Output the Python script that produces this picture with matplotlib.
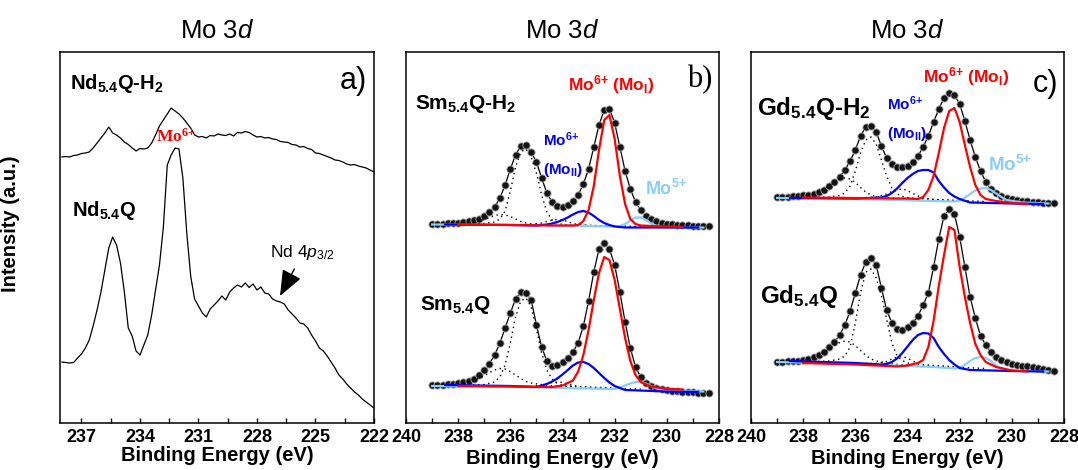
import numpy as np
import matplotlib
matplotlib.use('Agg')
import matplotlib.pyplot as plt
from matplotlib.ticker import MultipleLocator

plt.rcParams['font.family'] = ['Liberation Sans', 'DejaVu Sans']
plt.rcParams['mathtext.fontset'] = 'custom'
plt.rcParams['mathtext.rm'] = 'Liberation Sans'
plt.rcParams['mathtext.it'] = 'Liberation Sans:italic'
plt.rcParams['mathtext.bf'] = 'Liberation Sans:bold'
plt.rcParams['mathtext.default'] = 'regular'

RED = '#ff0000'
BLUE = '#0000ff'
LBLUE = '#87cefa'

# ---------------- panel a (Nd), raw spectra
a_e = np.round(np.arange(238.0, 221.9, -0.2), 1)
nd_h2 = [266, 266.5, 266, 267.5, 268, 269.5, 270, 271, 275, 280, 285, 290, 296, 290, 288,
         285, 281, 278.5, 275, 272, 274.5, 274, 275, 280, 288, 297, 303, 309, 315, 312,
         309, 305, 300, 295, 288, 286, 286.5, 285, 287.5, 287, 289, 288, 287.5, 289, 287,
         290.5, 290, 291.5, 290.5, 288, 286, 286.5, 285, 285.5, 284, 283.5, 281.5, 281, 280.5,
         278.5, 278, 276, 276.5, 274.5, 273.5, 270, 269.5, 268, 266.5, 265, 263, 262.5, 261,
         259, 258, 258.5, 257, 256, 255, 253, 251]
nd = [61, 60.5, 60, 60.5, 65, 69, 75, 83, 97, 113, 131, 153, 175, 186, 178, 160, 131, 95,
      87, 72, 68, 78, 88, 108, 133, 158, 196, 258, 268, 275, 274, 245, 190, 147, 124, 117,
      110, 106, 114, 118, 122, 127, 123, 131, 135, 138, 136, 140, 135.5, 139, 133, 136, 130,
      129, 124, 122, 121, 119, 113, 109, 105, 100, 99, 95, 88, 82, 75, 72, 67, 61, 55, 48,
      44, 39, 35, 31, 28, 24, 21, 18, 15]

# ---------------- panels b, c: measured points
bc_e = np.round(np.arange(239.0, 228.3, -0.2), 1)
sm_h2 = [199, 199, 199.5, 200, 200, 200.5, 201, 202, 203, 204.5, 207, 211, 216, 225, 238,
         254, 268, 277, 278, 271, 261, 245, 230, 221, 217, 216, 218, 222, 228, 239, 254, 276,
         298, 313, 314, 300, 276, 252, 234, 221, 213, 207, 204, 202, 200.5, 199.5, 199, 198.5,
         198, 198, 197.5, 197.5, 197, 197]
sm = [38, 38, 38.5, 39, 39.5, 40, 41, 42.5, 44.5, 48, 53, 59.5, 68, 80, 95, 110, 124, 131,
      130, 123, 98, 76, 62, 57, 58, 61, 65, 71, 80, 97, 122, 151, 174, 180, 174, 158, 131,
      101, 75, 56, 46, 40, 37, 35, 34, 33, 32.5, 32, 31.5, 31, 31, 30.5, 30.5, 30]
gd_h2 = [226, 226, 226.5, 227, 227.5, 228, 228.5, 229.5, 231, 233.5, 237, 241, 246, 253,
         262, 273, 287, 296, 297, 291, 277, 265, 259, 256, 256, 257, 261, 267, 276, 287, 301,
         314, 325, 330, 328, 319, 302, 283, 266, 252, 241, 234, 230, 227, 225, 224, 223,
         222.5, 222, 221.5, 221, 220.5, 220, 220]
gd = [61, 61.5, 62, 62, 62.5, 63, 64, 66, 68, 71, 76, 81, 88, 98, 112, 130, 148, 161, 165,
      158, 135, 113, 100, 94, 93, 96, 100, 107, 118, 130, 156, 184, 207, 214, 209, 186, 156,
      126, 105, 87, 78, 71, 66, 63, 61, 59.5, 58.5, 57.5, 57, 56, 55, 54, 53, 52]

# ---------------- fitted components (3d5/2 solid, 3d3/2 dotted)
red_e = [238.0, 236.0, 234.4, 234.0, 233.6, 233.4, 233.2, 233.0, 232.8, 232.6, 232.4, 232.2,
         232.0, 231.8, 231.6, 231.4, 231.2, 231.0, 230.6, 230.0, 229.4]
sm_h2_red = [198.5, 198, 197.5, 197.5, 197.5, 198, 202, 213, 237, 273, 303, 308, 284, 247,
             219, 204, 199, 197.5, 197, 196.5, 196]
sm_red = [37, 36.5, 36, 37.5, 42.5, 51.5, 68, 93, 123, 150, 166, 163, 143, 114, 85, 62, 48,
          41, 36.5, 34, 33.5]
gd_h2_red = [225.5, 225, 224.5, 224.5, 224, 226, 233, 247, 270, 295, 312, 315, 301, 278, 256,
             238, 228, 224, 222, 220, 219]
gd_red = [60, 58.5, 56.5, 57.5, 60, 63, 76, 102, 137, 168, 196, 193, 156, 126, 100, 79, 68,
          61, 56, 52.5, 51.5]

blue_e = [238.5, 236.0, 235.0, 234.8, 234.6, 234.4, 234.2, 234.0, 233.8, 233.6, 233.4, 233.2,
          233.0, 232.8, 232.6, 232.4, 232.2, 232.0, 231.6, 230.0, 228.8]
sm_h2_blue = [198.5, 198, 197.5, 198, 198.5, 199.5, 201, 203, 205.5, 208.5, 211, 212, 210.5,
              207, 203, 200, 198, 196.5, 195.5, 195.5, 195.5]
sm_blue = [38, 37, 36, 37.5, 39, 41.5, 44.5, 48.5, 53, 57.5, 60.5, 61, 59, 55, 50, 45, 40.5,
           37, 33, 31.5, 31]
gd_h2_blue = [225, 224.5, 225.5, 227, 230, 234.5, 240, 245, 249, 252, 253, 253, 250.5, 242,
              235.5, 230, 226.5, 224, 220.5, 219.5, 219]
gd_blue = [62, 60, 58.5, 59, 61, 64.5, 70, 76.5, 83, 88, 90, 89.5, 85, 76, 69, 63, 58.5, 55,
           53, 52, 51.5]

lblue_e = [239.0, 236.0, 233.0, 232.2, 232.0, 231.8, 231.6, 231.4, 231.2, 231.0, 230.8,
           230.6, 230.4, 230.2, 229.6, 228.6]
sm_h2_lb = [198.5, 198, 197, 196.5, 196.5, 197, 199, 202.5, 205.5, 205.5, 203, 199.5, 197,
            196, 195.5, 195.5]
sm_lb = [37, 36, 34.5, 34, 34, 35.5, 37.5, 39.5, 41, 41, 39.5, 37, 34.5, 33, 32, 31.5]
gd_h2_lb = [225, 224, 222, 221.5, 222.5, 225.5, 229, 232.5, 234.5, 235, 233, 229.5, 226,
            223, 220.5, 219.5]
gd_lb = [61, 59, 56, 54.5, 55.5, 58, 62, 65, 66, 65, 62, 57.5, 54.5, 53, 52, 51.5]

d1_e = [238.0, 237.0, 236.6, 236.4, 236.2, 236.0, 235.8, 235.6, 235.4, 235.2, 235.0, 234.8,
        234.6, 234.4, 234.2, 234.0, 233.6, 232.0]
sm_h2_d1 = [198.5, 199.5, 201, 204, 212, 232, 256, 271, 274, 266, 250, 228, 211, 203, 200,
            198.5, 198, 197]
sm_d1 = [37, 38.5, 41, 46, 58, 80, 106, 122, 125, 116, 94, 70, 53, 44, 39.5, 37.5, 36.5, 35]
gd_h2_d1 = [225.5, 226, 227.5, 230, 237, 252, 270, 283, 286, 279, 263, 247, 235, 229, 226.5,
            225.5, 224.5, 222]
gd_d1 = [61, 62, 64, 67, 76, 100, 130, 151, 154, 145, 127, 104, 80, 67, 62.5, 60, 58.5, 56]

d2_e = [238.4, 237.8, 237.4, 237.0, 236.8, 236.6, 236.4, 236.2, 236.0, 235.8, 235.6, 235.4,
        235.2, 234.6, 233.6]
sm_h2_d2 = [198.5, 199.5, 201, 203.5, 205.5, 207.5, 208.5, 208, 206.5, 204, 201.5, 200, 199,
            198, 197.5]
sm_d2 = [38, 40, 43, 47, 50.5, 53, 54.5, 54, 51.5, 48, 44.5, 41.5, 40, 37.5, 36]
gd_h2_d2 = [225.5, 228, 232, 237, 240.5, 243.5, 245, 244, 240.5, 235.5, 231, 228, 226.5, 225,
            223.5]
gd_d2 = [62, 64.5, 68, 73.5, 77.5, 80.5, 82, 81, 77.5, 72.5, 67.5, 64, 62, 59, 57]

d3_e = [235.6, 235.2, 234.8, 234.6, 234.4, 234.2, 234.0, 233.8, 233.6, 233.4, 233.0, 231.0]
sm_h2_d3 = [198.5, 198.5, 200, 201.5, 203, 203.5, 203, 201.5, 199.5, 198.5, 197.5, 196.5]
sm_d3 = [36.5, 36.5, 38, 39.5, 40.5, 41, 40.5, 39, 37.5, 36.5, 35.5, 34]
gd_h2_d3 = [225.5, 226, 229, 231.5, 233.5, 234, 232.5, 229.5, 227, 225, 223.5, 221.5]
gd_d3 = [59.5, 59.5, 61.5, 64, 66, 66.5, 65, 62, 59.5, 58, 57, 54.5]


def style_axis(ax, xmin, xmax, major, minor, labelpad):
    ax.set_xlim(xmin, xmax)
    ax.set_ylim(0, 371)
    ax.xaxis.set_major_locator(MultipleLocator(major))
    ax.xaxis.set_minor_locator(MultipleLocator(minor))
    ax.tick_params(axis='x', which='both', direction='in', length=3.5, width=1,
                   labelsize=13, pad=4)
    ax.set_yticks([])
    for lab in ax.get_xticklabels():
        lab.set_fontweight('bold')
    for sp in ax.spines.values():
        sp.set_linewidth(1.1)
    ax.set_xlabel('Binding Energy (eV)', fontsize=14.5, fontweight='bold',
                  labelpad=labelpad)
    ax.set_title('Mo 3$\\mathit{d}$', fontsize=18.5, pad=10)


def draw_fit(ax, data, red, blue, lb, d1, d2, d3):
    ax.plot(bc_e, data, color='black', lw=0.9, zorder=2)
    ax.plot(bc_e, data, 'o', ms=5.2, mfc='#141414', mec='#a8a8a8', mew=0.6, zorder=3)
    for e, v in ((d1_e, d1), (d2_e, d2), (d3_e, d3)):
        ax.plot(e, v, color='black', lw=1.0, ls=(0, (1, 2.6)), zorder=4)
    ax.plot(lblue_e, lb, color=LBLUE, lw=1.6, zorder=5)
    ax.plot(blue_e, blue, color=BLUE, lw=1.6, zorder=5)
    ax.plot(red_e, red, color=RED, lw=1.6, zorder=6)


fig = plt.figure(figsize=(10.78, 4.70), dpi=100)
axa = fig.add_axes([60 / 1078, 47 / 470, 314 / 1078, 371 / 470])
axb = fig.add_axes([406 / 1078, 47 / 470, 313 / 1078, 371 / 470])
axc = fig.add_axes([751 / 1078, 47 / 470, 313 / 1078, 371 / 470])

# panel a
axa.plot(a_e, nd_h2, color='black', lw=0.9)
axa.plot(a_e, nd, color='black', lw=0.9)
style_axis(axa, 238.1, 222.0, 3, 1.5, 0)
axa.set_ylabel('Intensity (a.u.)', fontsize=14.5, fontweight='bold')
axa.yaxis.set_label_coords(-0.127, 0.536)
axa.text(0.032, 0.915, 'Nd$_{5.4}$Q-H$_2$', transform=axa.transAxes, fontsize=14.5,
         fontweight='bold', va='center', ha='left')
axa.text(0.038, 0.574, 'Nd$_{5.4}$Q', transform=axa.transAxes, fontsize=14.5,
         fontweight='bold', va='center', ha='left')
axa.text(0.935, 0.922, 'a)', transform=axa.transAxes, fontsize=22, va='center', ha='center')
axa.text(0.368, 0.772, 'Mo$^{6{+}}$', transform=axa.transAxes, fontsize=12.5, color=RED,
         fontweight='bold', family='Liberation Serif', math_fontfamily='stix',
         va='center', ha='center')
axa.annotate('Nd 4$\\mathit{p_{3/2}}$', xy=(226.82, 127), xytext=(225.65, 170),
             fontsize=12.5, ha='center', va='center',
             arrowprops=dict(arrowstyle='-|>,head_length=1.0,head_width=0.4',
                             color='black', lw=1, shrinkA=3, shrinkB=0,
                             mutation_scale=16))

# panel b
draw_fit(axb, sm_h2, sm_h2_red, sm_h2_blue, sm_h2_lb, sm_h2_d1, sm_h2_d2, sm_h2_d3)
draw_fit(axb, sm, sm_red, sm_blue, sm_lb, sm_d1, sm_d2, sm_d3)
style_axis(axb, 240, 228, 2, 1, 2.5)
axb.text(0.029, 0.86, 'Sm$_{5.4}$Q-H$_2$', transform=axb.transAxes, fontsize=15,
         fontweight='bold', va='center', ha='left')
axb.text(0.045, 0.318, 'Sm$_{5.4}$Q', transform=axb.transAxes, fontsize=15,
         fontweight='bold', va='center', ha='left')
axb.text(0.655, 0.911, 'Mo$^{6{+}}$ (Mo$_{I}$)', transform=axb.transAxes, fontsize=12.5,
         color=RED, fontweight='bold', va='center', ha='center')
axb.text(0.438, 0.763, 'Mo$^{6{+}}$', transform=axb.transAxes, fontsize=11,
         color=BLUE, fontweight='bold', va='center', ha='left')
axb.text(0.438, 0.682, '(Mo$_{II}$)', transform=axb.transAxes, fontsize=11,
         color=BLUE, fontweight='bold', va='center', ha='left')
axb.text(0.764, 0.631, 'Mo$^{5{+}}$', transform=axb.transAxes, fontsize=13,
         color=LBLUE, fontweight='bold', va='center', ha='left')
axb.text(0.939, 0.927, 'b)', transform=axb.transAxes, fontsize=22, family='Liberation Serif',
         va='center', ha='center')

# panel c
draw_fit(axc, gd_h2, gd_h2_red, gd_h2_blue, gd_h2_lb, gd_h2_d1, gd_h2_d2, gd_h2_d3)
draw_fit(axc, gd, gd_red, gd_blue, gd_lb, gd_d1, gd_d2, gd_d3)
style_axis(axc, 240, 228, 2, 1, 2.5)
axc.text(0.019, 0.849, 'Gd$_{5.4}$Q-H$_2$', transform=axc.transAxes, fontsize=17.5,
         fontweight='bold', va='center', ha='left')
axc.text(0.029, 0.342, 'Gd$_{5.4}$Q', transform=axc.transAxes, fontsize=17.5,
         fontweight='bold', va='center', ha='left')
axc.text(0.687, 0.935, 'Mo$^{6{+}}$ (Mo$_{I}$)', transform=axc.transAxes, fontsize=12.5,
         color=RED, fontweight='bold', va='center', ha='center')
axc.text(0.435, 0.86, 'Mo$^{6{+}}$', transform=axc.transAxes, fontsize=11,
         color=BLUE, fontweight='bold', va='center', ha='left')
axc.text(0.435, 0.779, '(Mo$_{II}$)', transform=axc.transAxes, fontsize=11,
         color=BLUE, fontweight='bold', va='center', ha='left')
axc.text(0.757, 0.695, 'Mo$^{5{+}}$', transform=axc.transAxes, fontsize=13.5,
         color=LBLUE, fontweight='bold', va='center', ha='left')
axc.text(0.942, 0.914, 'c)', transform=axc.transAxes, fontsize=22, va='center', ha='center')

fig.savefig('out.png', dpi=100)
